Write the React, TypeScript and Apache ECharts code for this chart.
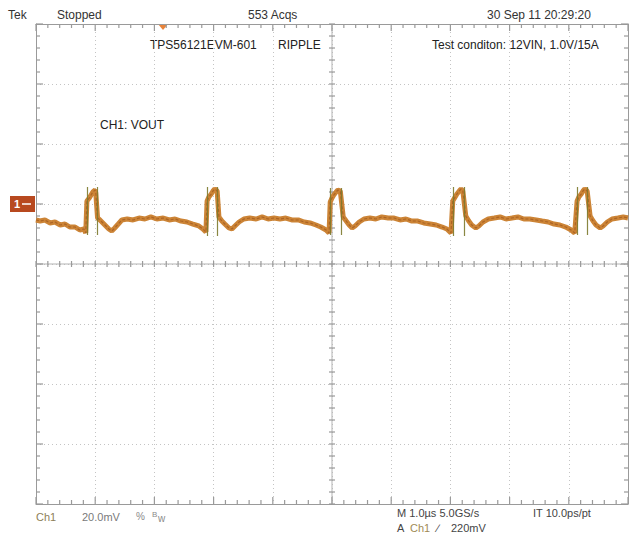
import React, { useEffect, useRef } from "react";
import * as echarts from "echarts";

// Horizontal: time in microseconds (1.0 us/div, 10 divisions)
// Vertical: Ch1 voltage in mV relative to the channel marker (20 mV/div)
const timeUs = [
  0.0, 0.07, 0.15, 0.24, 0.32, 0.41, 0.49, 0.57, 0.66, 0.74, 0.81, 0.84,
  0.86, 0.9, 0.93, 0.96, 1.0, 1.01,
  1.04, 1.08, 1.13, 1.18, 1.23, 1.28, 1.33, 1.39, 1.45, 1.54, 1.64, 1.74, 1.84, 1.94, 2.04, 2.15, 2.25, 2.35, 2.45, 2.55, 2.65, 2.75, 2.82, 2.87,
  2.89, 2.92, 2.96, 2.99, 3.02, 3.06,
  3.09, 3.14, 3.19, 3.26, 3.31, 3.36, 3.43, 3.51, 3.61, 3.72, 3.82, 3.92, 4.02, 4.12, 4.22, 4.32, 4.43, 4.53, 4.63, 4.73, 4.81, 4.9, 4.95,
  4.97, 5.0, 5.03, 5.07, 5.1, 5.14,
  5.19, 5.24, 5.29, 5.34, 5.39, 5.46, 5.54, 5.64, 5.74, 5.84, 5.95, 6.05, 6.15, 6.25, 6.35, 6.45, 6.55, 6.66, 6.76, 6.86, 6.94, 7.01,
  7.04, 7.08, 7.11, 7.15, 7.18, 7.21,
  7.26, 7.31, 7.36, 7.43, 7.48, 7.55, 7.64, 7.74, 7.84, 7.94, 8.04, 8.14, 8.24, 8.34, 8.45, 8.55, 8.65, 8.75, 8.85, 8.95, 9.04, 9.1,
  9.14, 9.17, 9.21, 9.24, 9.27, 9.31,
  9.36, 9.41, 9.46, 9.53, 9.58, 9.65, 9.73, 9.83, 9.92, 10.0,
];
const rippleMv = [
  -5.33, -5.67, -5.33, -6.33, -6.0, -7.0, -6.67, -7.67, -7.67, -8.67, -8.33, -9.67,
  1.0, 2.0, 3.0, 4.0, 4.67, 3.67,
  -4.67, -5.33, -6.33, -7.33, -8.33, -9.0, -8.0, -6.67, -5.33, -5.0, -5.33, -4.67, -5.0, -4.33, -5.0, -4.67, -5.33, -5.0, -5.67, -6.0, -6.67, -7.33, -8.33, -9.33,
  1.0, 2.33, 3.33, 4.33, 5.0, 4.33,
  -4.33, -5.67, -6.67, -8.0, -8.33, -7.33, -6.0, -5.0, -4.67, -5.0, -4.33, -5.0, -4.67, -5.0, -4.67, -5.33, -5.33, -6.0, -6.33, -7.0, -7.67, -8.67, -9.67,
  0.67, 2.0, 3.0, 4.0, 4.67, 4.33,
  -4.33, -5.67, -7.0, -8.0, -7.33, -6.0, -5.0, -4.67, -5.0, -4.33, -4.67, -4.67, -5.33, -5.0, -5.67, -5.67, -6.33, -6.67, -7.0, -7.67, -8.33, -9.67,
  1.0, 2.33, 3.33, 4.33, 5.0, 4.33,
  -4.0, -5.67, -7.0, -8.0, -7.33, -6.0, -5.0, -4.67, -4.33, -5.0, -4.67, -4.33, -5.0, -5.0, -5.33, -5.67, -6.0, -6.67, -7.0, -7.67, -8.67, -9.67,
  1.0, 2.33, 3.33, 4.33, 5.0, 4.33,
  -4.0, -5.67, -7.0, -8.0, -7.33, -6.0, -5.0, -4.67, -4.33, -4.67,
];
// Fast switching edges (thin vertical strokes)
const risingEdgeUs = [0.86, 2.89, 4.97, 7.04, 9.14];
const fallingEdgeUs = [1.03, 3.07, 5.15, 7.23, 9.32];
const edgeTopMv = [5.7, 5.7, 5.3, 5.7, 5.7];
const edgeBottomMv = [-10.3, -10.7, -10.3, -10.7, -10.3];

// Graticule
const X_MIN = 0, X_MAX = 10, X_DIV = 1;
const Y_MIN = -100, Y_MAX = 60, Y_DIV = 20;
const X_CENTER = 5, Y_CENTER = -20;

const FONT = "'Liberation Sans', Arial, sans-serif";

export default function App() {
  const ref = useRef<HTMLDivElement>(null);
  useEffect(() => {
    if (!ref.current) return;
    const chart = echarts.init(ref.current, undefined, { renderer: "svg" });
    const trace = timeUs.map((t, i) => [t, rippleMv[i]]);
    const edges: any[] = [];
    risingEdgeUs.forEach((t, i) => {
      edges.push({ coords: [[t, edgeBottomMv[i]], [t, edgeTopMv[i]]] });
      edges.push({ coords: [[fallingEdgeUs[i], edgeTopMv[i]], [fallingEdgeUs[i], edgeBottomMv[i]]] });
    });
    const border = "#9a9a9a";
    const gridC = "#c4c4c4";
    const frameAxis = (pos: string) => ({
      type: "value",
      position: pos,
      axisLine: { show: true, onZero: false, lineStyle: { color: border, width: 1 } },
      axisTick: { show: false },
      axisLabel: { show: false },
      splitLine: { show: false },
    });

    const staticGraphics: any[] = [
      { type: "text", left: 8, top: 9, style: { text: "Tek", font: `12px ${FONT}`, fill: "#333" } },
      { type: "text", left: 57, top: 9, style: { text: "Stopped", font: `12px ${FONT}`, fill: "#333" } },
      { type: "text", left: 248, top: 9, style: { text: "553 Acqs", font: `12px ${FONT}`, fill: "#333" } },
      { type: "text", left: 487, top: 9, style: { text: "30 Sep 11 20:29:20", font: `12px ${FONT}`, fill: "#333" } },
      { type: "text", left: 150, top: 39, style: { text: "TPS56121EVM-601", font: `12px ${FONT}`, fill: "#222" } },
      { type: "text", left: 278, top: 39, style: { text: "RIPPLE", font: `12px ${FONT}`, fill: "#222" } },
      { type: "text", left: 432, top: 39, style: { text: "Test conditon: 12VIN, 1.0V/15A", font: `12px ${FONT}`, fill: "#222" } },
      { type: "text", left: 100, top: 119, style: { text: "CH1: VOUT", font: `12px ${FONT}`, fill: "#222" } },
      { type: "text", left: 36, top: 511, style: { text: "Ch1", font: `11px ${FONT}`, fill: "#8d8058" } },
      { type: "text", left: 82, top: 511, style: { text: "20.0mV", font: `11px ${FONT}`, fill: "#7a7a7a" } },
      { type: "text", left: 136, top: 511, style: { text: "%", font: `10px ${FONT}`, fill: "#8a8a8a" } },
      { type: "text", left: 152, top: 510, style: { text: "B", font: `8px ${FONT}`, fill: "#8a8a8a" } },
      { type: "text", left: 158, top: 513, style: { text: "w", font: `10px ${FONT}`, fill: "#8a8a8a" } },
      { type: "text", left: 397, top: 507, style: { text: "M 1.0\u00b5s 5.0GS/s", font: `11px ${FONT}`, fill: "#444" } },
      { type: "text", left: 533, top: 507, style: { text: "IT 10.0ps/pt", font: `11px ${FONT}`, fill: "#444" } },
      { type: "text", left: 397, top: 522, style: { text: "A", font: `11px ${FONT}`, fill: "#444" } },
      { type: "text", left: 410, top: 522, style: { text: "Ch1", font: `11px ${FONT}`, fill: "#a08a55" } },
      { type: "text", left: 437, top: 522, style: { text: "\u2215", font: `11px ${FONT}`, fill: "#444" } },
      { type: "text", left: 451, top: 522, style: { text: "220mV", font: `11px ${FONT}`, fill: "#444" } },
      { type: "rect", shape: { x: 10, y: 196, width: 25, height: 16 }, style: { fill: "#b8491f" } },
      { type: "text", left: 14, top: 198, style: { text: "1", font: `bold 11px ${FONT}`, fill: "#fff" } },
      { type: "line", shape: { x1: 22, y1: 204, x2: 31, y2: 204 }, style: { stroke: "#fff", lineWidth: 1.5 } },
      { type: "polygon", shape: { points: [[158, 24], [168, 24], [163, 30]] }, style: { fill: "#e8833a" } },
    ];

    chart.setOption({
      animation: false,
      backgroundColor: "#ffffff",
      grid: { left: 36, top: 24, width: 592, height: 480 },
      xAxis: [
        {
          ...frameAxis("bottom"),
          min: X_MIN,
          max: X_MAX,
          interval: X_DIV,
          splitLine: { show: true, lineStyle: { color: gridC, type: [1, 3] } },
        },
        { ...frameAxis("top"), min: X_MIN, max: X_MAX, interval: X_DIV },
      ],
      yAxis: [
        {
          ...frameAxis("left"),
          min: Y_MIN,
          max: Y_MAX,
          interval: Y_DIV,
          splitLine: { show: true, lineStyle: { color: gridC, type: [1, 3] } },
        },
        { ...frameAxis("right"), min: Y_MIN, max: Y_MAX, interval: Y_DIV },
      ],
      series: [
        {
          type: "line",
          name: "Ch1 band",
          data: trace,
          symbol: "none",
          lineStyle: { color: "#cc8436", width: 5 },
          z: 3,
        },
        {
          type: "line",
          name: "Ch1",
          data: trace,
          symbol: "none",
          lineStyle: { color: "#a2591f", width: 1.2, opacity: 0.75, type: [3, 2] },
          z: 4,
        },
        {
          type: "lines",
          coordinateSystem: "cartesian2d",
          data: edges,
          lineStyle: { color: "#7d7a2e", width: 1.2, opacity: 0.9 },
          z: 5,
        },
      ],
      graphic: staticGraphics,
    });

    // Graticule ticks placed through the chart's own scales
    const px = (x: number, y: number) => chart.convertToPixel({ gridIndex: 0 }, [x, y]) as number[];
    const tickEls: any[] = [];
    const add = (x1: number, y1: number, x2: number, y2: number, stroke: string, w: number) =>
      tickEls.push({
        type: "rect",
        silent: true,
        z: 1,
        shape: {
          x: Math.min(x1, x2) - (x1 === x2 ? w / 2 : 0),
          y: Math.min(y1, y2) - (y1 === y2 ? w / 2 : 0),
          width: x1 === x2 ? w : Math.abs(x2 - x1),
          height: y1 === y2 ? w : Math.abs(y2 - y1),
        },
        style: { fill: stroke },
      });
    const tickC = "#9a9a9a";
    const c1 = px(X_CENTER, Y_MAX), c2 = px(X_CENTER, Y_MIN);
    add(c1[0], c1[1], c2[0], c2[1], "#b4b4b4", 1);
    const c3 = px(X_MIN, Y_CENTER), c4 = px(X_MAX, Y_CENTER);
    add(c3[0], c3[1], c4[0], c4[1], "#b4b4b4", 1);
    const xSteps = Math.round(((X_MAX - X_MIN) / X_DIV) * 5);
    for (let i = 0; i <= xSteps; i++) {
      const t = X_MIN + (i * X_DIV) / 5;
      const L = i % 5 === 0 ? 7 : 4;
      const top = px(t, Y_MAX), bot = px(t, Y_MIN), mid = px(t, Y_CENTER);
      add(top[0], top[1], top[0], top[1] + L, tickC, 1.2);
      add(bot[0], bot[1] - L, bot[0], bot[1], tickC, 1.2);
      add(mid[0], mid[1] - 3, mid[0], mid[1] + 3, tickC, 1.2);
    }
    const ySteps = Math.round(((Y_MAX - Y_MIN) / Y_DIV) * 5);
    for (let i = 0; i <= ySteps; i++) {
      const v = Y_MIN + (i * Y_DIV) / 5;
      const L = i % 5 === 0 ? 7 : 4;
      const l = px(X_MIN, v), r = px(X_MAX, v), mid = px(X_CENTER, v);
      add(l[0], l[1], l[0] + L, l[1], tickC, 1.2);
      add(r[0] - L, r[1], r[0], r[1], tickC, 1.2);
      add(mid[0] - 3, mid[1], mid[0] + 3, mid[1], tickC, 1.2);
    }
    chart.setOption({ graphic: [...staticGraphics, ...tickEls] });

    return () => chart.dispose();
  }, []);
  return (
    <div
      ref={ref}
      style={{ position: "fixed", left: 0, top: 0, width: 629, height: 539, background: "#fff" }}
    />
  );
}
